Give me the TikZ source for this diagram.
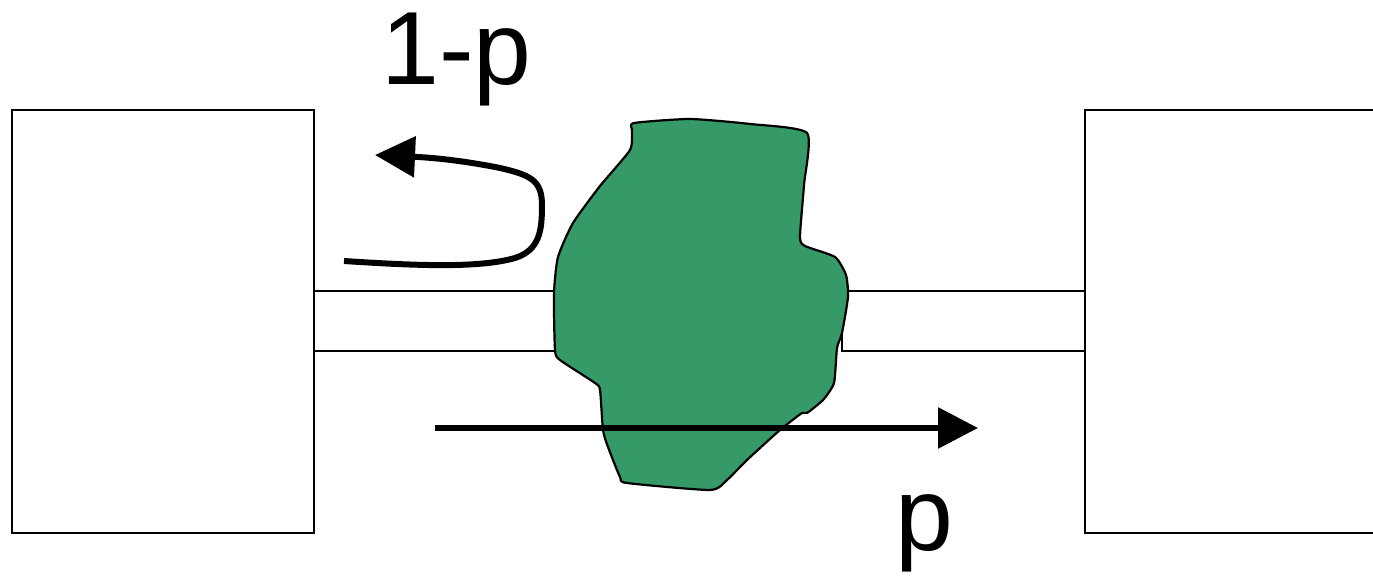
\documentclass[tikz,border=0pt]{standalone}
\usepackage{fontspec}
\setmainfont{Liberation Sans}
\usetikzlibrary{arrows.meta}
\definecolor{blobgreen}{RGB}{53,154,104}
\begin{document}
\begin{tikzpicture}[x=0.5pt,y=-0.5pt,
  boxstyle/.style={draw=black,line width=1.1pt,fill=white,inner sep=0pt,anchor=north west},
  tubeline/.style={draw=black,line width=1pt},
  bigarrow/.style={draw=black,line width=3pt,-{Triangle[length=20pt,width=20pt]}},
  label/.style={font=\fontsize{52pt}{60pt}\selectfont,inner sep=0pt,anchor=base west}]
\useasboundingbox (0,0) rectangle (1373,576);
% boxes
\node[boxstyle,minimum width=151pt,minimum height=211.5pt] (lbox) at (11,109) {};
\node[boxstyle,minimum width=160pt,minimum height=211.5pt] (rbox) at (1084,109) {};
% tube
\coordinate (tl1) at (313,291);
\coordinate (tl2) at (313,351);
\coordinate (tr1) at (1084,291);
\coordinate (tr2) at (1084,351);
\coordinate (tm1) at (600,291);
\coordinate (tm2) at (600,351);
\coordinate (tn1) at (800,291);
\coordinate (tn2) at (842,351);
\coordinate (tn3) at (842,333);
\draw[tubeline] (tl1) -- (tm1);
\draw[tubeline] (tl2) -- (tm2);
\draw[tubeline] (tn1) -- (tr1);
\draw[tubeline] (tn3) -- (tn2) -- (tr2);
% blob
\draw[fill=blobgreen,line width=1.1pt,line join=round] plot[smooth cycle,tension=0.35] coordinates {
(634,123) (690,119) (750,124) (807,133) (804,185) (800,237) (805,246) (835,257) (846,275) (848,297) (842,333) (837,348) (834,383) (823,400) (807,413) (802,413) (780,430) (747,460) (727,480) (710,490) (627,483) (620,477) (608,447) (603,430) (600,390) (595,383) (560,360) (555,350) (554,293) (558,257) (573,223) (600,186) (630,150) (632,130)};
% arrows
\coordinate (ps) at (435,428);
\coordinate (pe) at (978,428);
\draw[bigarrow] (ps) -- (pe);
\coordinate (qs) at (344,261);
\coordinate (qe) at (375,155);
\draw[bigarrow] (qs) .. controls (420,266) and (480,268) .. (515,258)
  .. controls (540,250) and (542,230) .. (542,205)
  .. controls (542,180) and (530,175) .. (500,168)
  .. controls (470,162) and (440,158) .. (qe);
% labels
\node[label] (lq) at (381,85) {1-p};
\node[label] (lp) at (895,551) {p};
\end{tikzpicture}
\end{document}
